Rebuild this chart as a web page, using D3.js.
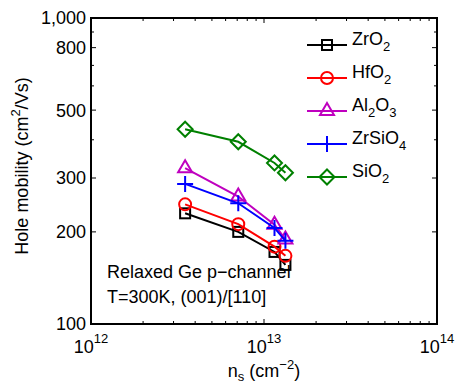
<!DOCTYPE html>
<html>
<head>
<meta charset="utf-8">
<script src="https://cdn.jsdelivr.net/npm/d3@7"></script>
<style>
  body { margin: 0; background: #fff; }
  svg { display: block; font-family: "Liberation Sans", Arial, Helvetica, sans-serif; }
</style>
</head>
<body>
<svg id="chart" width="455" height="385"></svg>
<script>
// sheet density (cm^-2) for each measurement
const nsValues = [3.5e12, 7.1e12, 1.15e13, 1.33e13];

// hole mobility (cm^2/Vs) per gate dielectric
const zro2   = [230, 200, 172, 156];
const hfo2   = [246, 212, 179, 167];
const al2o3  = [323, 261, 211, 189];
const zrsio4 = [287, 248, 206, 187];
const sio2   = [433, 394, 336, 312];

const seriesNames = ['ZrO_2', 'HfO_2', 'Al_2O_3', 'ZrSiO_4', 'SiO_2'];

const yTickValues = [100, 200, 300, 500, 800, 1000];
const yTickLabels = ['100', '200', '300', '500', '800', '1,000'];
const xTickValues = [1e12, 1e13, 1e14];
const xTickExps = ['12', '13', '14'];

const notes = ['Relaxed Ge p\u2212channel', 'T=300K, (001)/[110]'];

// styling
const colors = ['#000000', '#ff0000', '#bf00bf', '#0000ff', '#008000'];
const markers = ['square', 'circle', 'triangle', 'plus', 'diamond'];

const allSeries = [zro2, hfo2, al2o3, zrsio4, sio2];

const margin = { top: 18, right: 18, bottom: 61, left: 91 };
const svg = d3.select('#chart');
const width = 455 - margin.left - margin.right;
const height = 385 - margin.top - margin.bottom;

const g = svg.append('g').attr('transform', `translate(${margin.left},${margin.top})`);

const x = d3.scaleLog().domain([1e12, 1e14]).range([0, width]);
const y = d3.scaleLog().domain([100, 1000]).range([height, 0]);

// minor ticks
const xMinor = [];
[1e12, 1e13].forEach(d => { for (let k = 2; k <= 9; k++) xMinor.push(d * k); });
const yMinor = d3.range(400, 1000, 100).filter(v => yTickValues.indexOf(v) < 0);

const tickG = g.append('g').attr('stroke', '#000').attr('stroke-width', 1);
function hTicks(vals, len) {
  vals.forEach(v => {
    tickG.append('line').attr('x1', x(v)).attr('x2', x(v)).attr('y1', height).attr('y2', height - len);
    tickG.append('line').attr('x1', x(v)).attr('x2', x(v)).attr('y1', 0).attr('y2', len);
  });
}
function vTicks(vals, len) {
  vals.forEach(v => {
    tickG.append('line').attr('x1', 0).attr('x2', len).attr('y1', y(v)).attr('y2', y(v));
    tickG.append('line').attr('x1', width).attr('x2', width - len).attr('y1', y(v)).attr('y2', y(v));
  });
}
hTicks(xTickValues, 5);
hTicks(xMinor, 3);
vTicks(yTickValues, 5);
vTicks(yMinor, 3);

// box
g.append('rect').attr('width', width).attr('height', height)
  .attr('fill', 'none').attr('stroke', '#000').attr('stroke-width', 2);

// y tick labels
g.selectAll('.ylab').data(yTickValues).enter().append('text')
  .attr('class', 'ylab')
  .attr('x', -5).attr('y', d => y(d)).attr('dy', '0.36em')
  .attr('text-anchor', 'end').attr('font-size', 18)
  .text((d, i) => yTickLabels[i]);

// x tick labels 10^n
xTickValues.forEach((v, i) => {
  const t = g.append('text').attr('x', x(v)).attr('y', height + 29)
    .attr('text-anchor', 'middle').attr('font-size', 18);
  t.append('tspan').text('10');
  t.append('tspan').attr('dy', -10).attr('font-size', 13).text(xTickExps[i]);
});

// axis titles
const xt = g.append('text').attr('x', width / 2).attr('y', height + 53)
  .attr('text-anchor', 'middle').attr('font-size', 18);
xt.append('tspan').text('n');
xt.append('tspan').attr('dy', 4).attr('font-size', 13).text('s');
xt.append('tspan').attr('dy', -4).text(' (cm');
xt.append('tspan').attr('dy', -8).attr('font-size', 13).text('\u22122');
xt.append('tspan').attr('dy', 8).text(')');

const yt = svg.append('text')
  .attr('transform', `translate(28,${margin.top + height / 2 - 5}) rotate(-90)`)
  .attr('text-anchor', 'middle').attr('font-size', 18);
yt.append('tspan').text('Hole mobility (cm');
yt.append('tspan').attr('dy', -8).attr('font-size', 13).text('2');
yt.append('tspan').attr('dy', 8).text('/Vs)');

// marker drawing
function drawMarker(sel, type, color) {
  const m = sel.append('g').attr('fill', 'none').attr('stroke', color).attr('stroke-width', 2);
  if (type === 'square') m.append('rect').attr('x', -5).attr('y', -5).attr('width', 10).attr('height', 10);
  if (type === 'circle') m.append('circle').attr('r', 6);
  if (type === 'triangle') m.append('path').attr('d', 'M0,-8L7,4L-7,4Z');
  if (type === 'plus') m.append('path').attr('d', 'M-8,0H8M0,-8V8');
  if (type === 'diamond') m.append('path').attr('d', 'M0,-7.5L7.5,0L0,7.5L-7.5,0Z');
}

const line = d3.line().x((d, i) => x(nsValues[i])).y(d => y(d));

allSeries.forEach((vals, si) => {
  g.append('path').datum(vals).attr('d', line)
    .attr('fill', 'none').attr('stroke', colors[si]).attr('stroke-width', 2);
  vals.forEach((v, i) => {
    const p = g.append('g').attr('transform', `translate(${x(nsValues[i])},${y(v)})`);
    drawMarker(p, markers[si], colors[si]);
  });
});

// chemical formula with subscripts
function formula(t, s) {
  let shift = 0;
  s.split(/(_\d)/).filter(p => p.length).forEach(p => {
    if (p[0] === '_') {
      t.append('tspan').attr('dy', 6).attr('font-size', 13).text(p.slice(1));
      shift = -6;
    } else {
      t.append('tspan').attr('dy', shift).text(p);
      shift = 0;
    }
  });
}

// legend
const leg = svg.append('g').attr('transform', 'translate(307,45)');
seriesNames.forEach((name, i) => {
  const row = leg.append('g').attr('transform', `translate(0,${i * 33})`);
  row.append('line').attr('x1', 0).attr('x2', 40)
    .attr('stroke', colors[i]).attr('stroke-width', 2);
  drawMarker(row.append('g').attr('transform', 'translate(20,0)'), markers[i], colors[i]);
  const t = row.append('text').attr('x', 45).attr('y', 0).attr('dy', '0.36em').attr('font-size', 18);
  formula(t, name);
});

// annotation
notes.forEach((s, i) => {
  svg.append('text').attr('x', 107).attr('y', 278 + i * 25)
    .attr('font-size', 18).text(s);
});
</script>
</body>
</html>
